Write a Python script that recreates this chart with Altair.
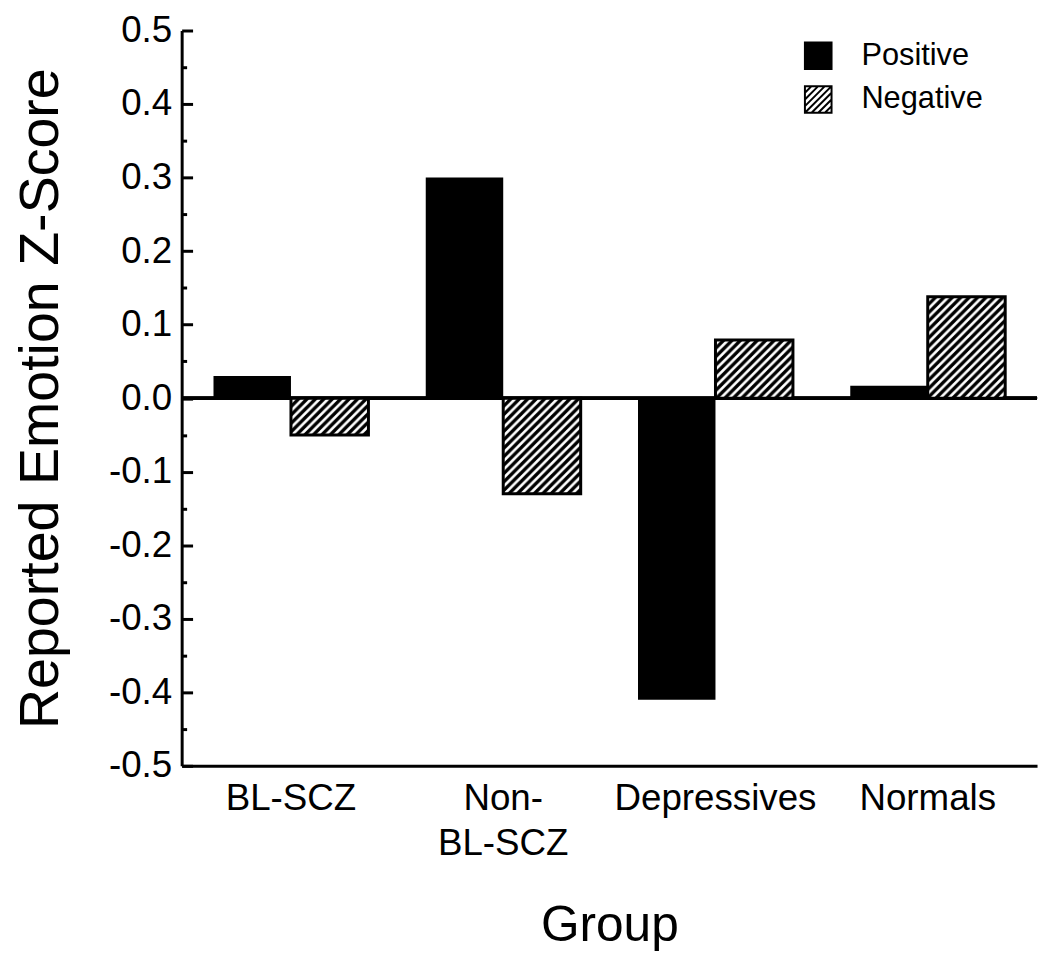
import base64
import altair as alt
import pandas as pd

# ---------------- data ----------------
groups = ["BL-SCZ", "Non-BL-SCZ", "Depressives", "Normals"]
emotion_types = ["Positive", "Negative"]
positive_values = [0.03, 0.30, -0.41, 0.017]
negative_values = [-0.05, -0.13, 0.079, 0.138]
major_ticks = [-0.5, -0.4, -0.3, -0.2, -0.1, 0.0, 0.1, 0.2, 0.3, 0.4, 0.5]
minor_ticks = [-0.45, -0.35, -0.25, -0.15, -0.05, 0.05, 0.15, 0.25, 0.35, 0.45]
y_title = "Reported Emotion Z-Score"
x_title = "Group"

rows = []
for g, p, n in zip(groups, positive_values, negative_values):
    rows.append({"Group": g, "Type": "Positive", "Value": p})
    rows.append({"Group": g, "Type": "Negative", "Value": n})
df = pd.DataFrame(rows)

# ---------------- styles ----------------
FONT = "Liberation Sans"
W, H = 862, 741
DOMAIN = [-0.5, 0.5]

hatch_svg = (
    "<svg xmlns='http://www.w3.org/2000/svg'>"
    "<defs><pattern id='h' patternUnits='userSpaceOnUse' width='8.5' height='8.5'>"
    "<path d='M-2,2 L2,-2 M0,8.5 L8.5,0 M6.5,10.5 L10.5,6.5' stroke='black' stroke-width='3.4'/>"
    "</pattern></defs><rect width='100%' height='100%' fill='url(#h)'/></svg>"
)
hatch_uri = "data:image/svg+xml;base64," + base64.b64encode(hatch_svg.encode()).decode()

square_path = "M-1,-1H1V1H-1Z"
hatched_path = (
    "M-1,-1H1V1H-1Z M-1,-0.5L-0.5,-1 M-1,0L0,-1 M-1,0.5L0.5,-1 M-1,1L1,-1 "
    "M-0.5,1L1,-0.5 M0,1L1,0 M0.5,1L1,0.5"
)

x_enc = alt.X(
    "Group:N",
    sort=groups,
    title=x_title,
    scale=alt.Scale(domain=groups, paddingInner=0.27, paddingOuter=0.15),
    axis=alt.Axis(
        domain=True, domainColor="black", domainWidth=3,
        ticks=False, tickSize=0, grid=False,
        labelFont=FONT, labelFontSize=37, labelColor="black", labelPadding=15,
        labelAngle=0, labelLineHeight=45, labelLimit=0,
        labelExpr="datum.label == 'Non-BL-SCZ' ? ['Non-', 'BL-SCZ'] : datum.label",
        titleFont=FONT, titleFontSize=50, titleFontWeight="normal", titleColor="black",
        titlePadding=40,
    ),
)
xoff = alt.XOffset(
    "Type:N", sort=emotion_types,
    scale=alt.Scale(domain=emotion_types, paddingInner=0, paddingOuter=0),
)


def y_enc(axis):
    return alt.Y(
        "Value:Q",
        scale=alt.Scale(domain=DOMAIN, nice=False, zero=False),
        axis=axis,
    )


axis_line = alt.Axis(
    orient="left", domain=True, domainColor="black", domainWidth=3,
    ticks=False, labels=False, grid=False, values=major_ticks,
    title=y_title, titleFont=FONT, titleFontSize=56, titleFontWeight="normal",
    titleColor="black", titlePadding=113,
)
axis_major = alt.Axis(
    orient="left", offset=-11, domain=False, ticks=True, tickSize=11, tickWidth=3,
    tickColor="black", values=major_ticks, grid=False, title=None,
    labelExpr="(datum.value < -0.0001 ? '-' : '') + format(abs(datum.value), '.1f')",
    labelFont=FONT, labelFontSize=37, labelColor="black", labelPadding=10,
    labelFlush=False, labelOverlap=False, labelBound=False,
)
axis_minor = alt.Axis(
    orient="left", offset=-5, domain=False, ticks=True, tickSize=5, tickWidth=3,
    tickColor="black", values=minor_ticks, labels=False, grid=False, title=None,
)

zero_line = alt.Chart(df).mark_rule(color="black", strokeWidth=3).encode(
    y=alt.YDatum(0, scale=alt.Scale(domain=DOMAIN, nice=False, zero=False), axis=None)
)

pos_bars = alt.Chart(df).transform_filter("datum.Type == 'Positive'").mark_bar(
    color="black"
).encode(x=x_enc, xOffset=xoff, y=y_enc(axis_line))

neg_fill = alt.Chart(df).transform_filter("datum.Type == 'Negative'").mark_bar(
    color="white"
).encode(x=x_enc, xOffset=xoff, y=y_enc(axis_major))

neg_hatch = alt.Chart(df).transform_filter("datum.Type == 'Negative'").mark_image(
    aspect=False
).encode(
    x=x_enc, xOffset=xoff, y=y_enc(axis_minor), y2=alt.Y2Datum(0),
    url=alt.value(hatch_uri),
)

neg_outline = alt.Chart(df).transform_filter("datum.Type == 'Negative'").mark_bar(
    fillOpacity=0, stroke="black", strokeWidth=3
).encode(x=x_enc, xOffset=xoff, y=y_enc(None))

legend_cfg = alt.Legend(
    title=None, orient="none", legendX=626, legendY=10,
    symbolSize=720, symbolStrokeColor="black", symbolStrokeWidth=2,
    symbolOpacity=1, symbolFillColor="black",
    labelFont=FONT, labelFontSize=31, labelColor="black", labelOffset=28,
    rowPadding=9, padding=0,
)
legend_layer = alt.Chart(df).transform_filter("false").mark_point(
    filled=True, opacity=1, strokeWidth=2
).encode(
    fill=alt.Fill("Type:N", scale=alt.Scale(domain=emotion_types, range=["black", "white"]),
                  legend=legend_cfg),
    shape=alt.Shape("Type:N", scale=alt.Scale(domain=emotion_types, range=[square_path, hatched_path]),
                    legend=legend_cfg),
    stroke=alt.Stroke("Type:N", scale=alt.Scale(domain=emotion_types, range=["black", "black"]),
                      legend=legend_cfg),
)

chart = (
    alt.layer(zero_line, pos_bars, neg_fill, neg_hatch, neg_outline, legend_layer)
    .resolve_scale(y="independent")
    .resolve_axis(y="independent")
    .properties(
        width=W, height=H,
        autosize=alt.AutoSizeParams(type="none"),
        padding={"left": 175, "top": 19, "right": 5, "bottom": 190},
        background="white",
    )
    .configure_view(stroke=None)
)

chart.save("out.html", embed_options={"renderer": "svg", "actions": False})
